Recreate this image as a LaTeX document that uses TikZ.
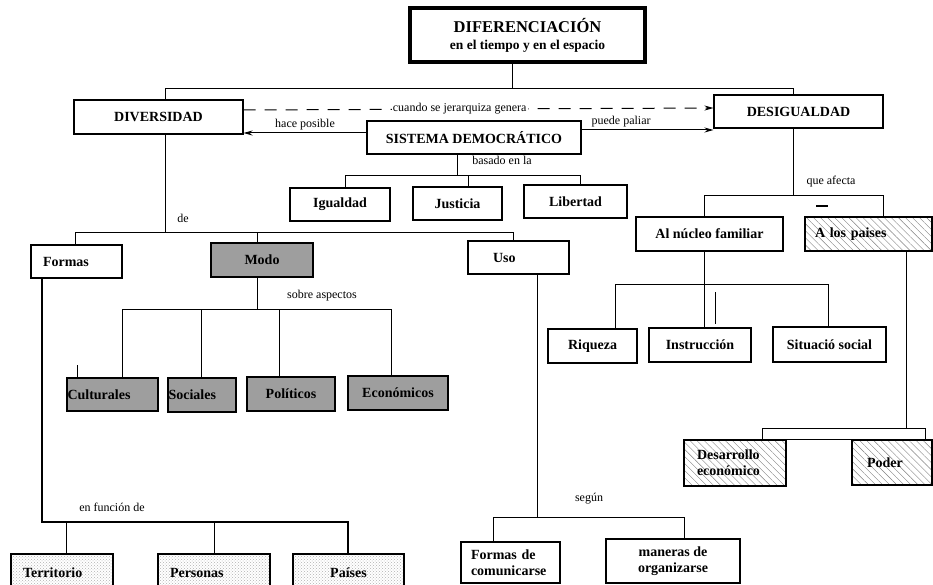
\documentclass[tikz,border=0pt]{standalone}
\usepackage{fontspec}
\setmainfont{Liberation Serif}
\usetikzlibrary{arrows.meta,patterns,patterns.meta}
\begin{document}
\begin{tikzpicture}[x=1pt,y=-1pt,
  box/.style={draw, line width=1.1pt, inner sep=2pt, font=\fontsize{14}{16}\selectfont\bfseries, align=center},
  darkbox/.style={box, fill=black!38, line width=1.6pt},
  dotbox/.style={box, pattern=crosshatch dots, pattern color=black!30},
  hatchbox/.style={box, pattern={Lines[angle=-45,distance=5pt,line width=0.4pt]}, pattern color=black!50},
  lbl/.style={font=\fontsize{12}{14}\selectfont, inner sep=1pt},
  conn/.style={line width=1pt},
  arr/.style={conn, -{Stealth[length=9pt,width=5pt]}}]
\fill[white] (0,0) rectangle (933,585);
\useasboundingbox (0,0) rectangle (933,585);

% --- top ---
\node[box, line width=3.5pt, minimum width=235pt, minimum height=54pt] (title) at (527.5,35)
  {{\fontsize{16.5}{19}\selectfont DIFERENCIACIÓN}\\[1pt]{\fontsize{13.5}{15}\selectfont en el tiempo y en el espacio}};
\node[box, minimum width=169pt, minimum height=34pt] (diversidad) at (158.5,117) {DIVERSIDAD};
\node[box, minimum width=169pt, minimum height=33pt] (desigualdad) at (798.5,111.5) {DESIGUALDAD};
\node[box, minimum width=214pt, minimum height=33pt] (sistema) at (474,137.5) {SISTEMA DEMOCRÁTICO};

\node[box, minimum width=100pt, minimum height=33pt] (igualdad) at (340,204.5) {Igualdad};
\node[box, minimum width=89pt, minimum height=33pt] (justicia) at (457.5,203.5) {Justicia};
\node[box, minimum width=103pt, minimum height=33pt] (libertad) at (575.5,201.5) {Libertad};

% --- diversidad branch ---
\node[box, inner xsep=12pt, text width=67pt, align=left, minimum height=33pt] (formas) at (76.5,261.5) {Formas};
\node[darkbox, minimum width=102pt, minimum height=34pt] (modo) at (262,260) {Modo};
\node[box, inner xsep=25pt, text width=51pt, align=left, minimum height=33pt] (uso) at (518.5,257.5) {Uso};

\node[darkbox, inner xsep=0.5pt, text width=90pt, align=left, minimum height=33pt] (culturales) at (112.5,394.5) {Culturales};
\node[darkbox, inner xsep=0.5pt, text width=67pt, align=left, minimum height=34pt] (sociales) at (202,395) {Sociales};
\node[darkbox, minimum width=88pt, minimum height=34pt] (politicos) at (291,394) {Políticos};
\node[darkbox, minimum width=100pt, minimum height=34pt] (economicos) at (398,393) {Económicos};

\node[dotbox, inner xsep=12pt, text width=78pt, align=left, minimum height=38pt] (territorio) at (62,573) {Territorio};
\node[dotbox, inner xsep=12pt, text width=88pt, align=left, minimum height=38pt] (personas) at (214,573) {Personas};
\node[dotbox, minimum width=111pt, minimum height=38pt] (paises) at (348.5,573) {Países};

\node[box, inner xsep=10pt, text width=79pt, align=left, minimum height=41pt] (comunicarse) at (510.5,562.5) {Formas de\\comunicarse};
\node[box, minimum width=134pt, minimum height=44pt] (organizarse) at (673,561) {maneras de\\organizarse};

% --- desigualdad branch ---
\node[box, minimum width=147pt, minimum height=34pt] (nucleo) at (709.5,234) {Al núcleo familiar};
\node[hatchbox, inner xsep=10pt, text width=107pt, align=left, minimum height=34pt] (lospaises) at (868.5,234) {A los paises};

\node[box, minimum width=89pt, minimum height=34pt] (riqueza) at (592.5,346) {Riqueza};
\node[box, minimum width=102pt, minimum height=34pt] (instruccion) at (700,345) {Instrucción};
\node[box, minimum width=113pt, minimum height=35pt] (situacio) at (829.5,344.5) {Situació social};

\node[hatchbox, inner xsep=13pt, text width=76pt, align=left, minimum height=46pt] (desarrollo) at (735,463) {Desarrollo\\económico};
\node[hatchbox, inner xsep=15pt, text width=50pt, align=left, minimum height=45pt] (poder) at (892,462.5) {Poder};

% --- bus coordinates ---
\coordinate (busT) at (512,89);
\coordinate (busA) at (165,89);
\coordinate (busB) at (793,89);
\coordinate (hp) at (0,133);
\coordinate (pp) at (0,130);
\coordinate (sb) at (457,176);
\coordinate (s1) at (345,176);
\coordinate (s2) at (468,176);
\coordinate (s3) at (580,176);
\coordinate (d0) at (165,232);
\coordinate (d1) at (75,232);
\coordinate (d2) at (257,232);
\coordinate (d3) at (513,232);
\coordinate (m0) at (257,309);
\coordinate (m1) at (122,309);
\coordinate (m2) at (201,309);
\coordinate (m3) at (279,309);
\coordinate (m4) at (391,309);
\coordinate (ct) at (77,365);
\coordinate (f0) at (42,522);
\coordinate (f1) at (66,522);
\coordinate (f2) at (214,522);
\coordinate (f3) at (348,522);
\coordinate (u0) at (537,517);
\coordinate (u1) at (493,517);
\coordinate (u2) at (684,517);
\coordinate (g0) at (793,196);
\coordinate (g1) at (704,196);
\coordinate (g2) at (883,196);
\coordinate (n0) at (704,284);
\coordinate (n1) at (615,284);
\coordinate (n3) at (828,284);
\coordinate (nx) at (715,292);
\coordinate (p0) at (906,428);
\coordinate (p1) at (762,428);
\coordinate (p2) at (925,428);

% --- connectors ---
\draw[conn] (title.south -| busT) -- (busT);
\draw[conn] (diversidad.north -| busA) -- (busA) -- (busB) -- (desigualdad.north -| busB);

\draw[arr, dash pattern=on 12pt off 9pt] ([yshift=7pt]diversidad.east) -- ([yshift=3.5pt]desigualdad.west)
  node[lbl, pos=0.46, fill=white] (lcuando) {cuando se jerarquiza genera};
\draw[arr] (sistema.west |- hp) -- (diversidad.east |- hp) node[lbl, midway, above=1pt] (lhace) {hace posible};
\draw[arr] (sistema.east |- pp) -- (desigualdad.west |- pp) node[lbl, pos=0.3, above=1pt] (lpuede) {puede paliar};

\draw[conn] (sistema.south -| sb) -- (sb);
\draw[conn] (igualdad.north -| s1) -- (s1) -- (s3) -- (libertad.north -| s3);
\draw[conn] (s2) -- (justicia.north -| s2);

\draw[conn] (diversidad.south -| d0) -- (d0);
\draw[conn] (formas.north -| d1) -- (d1) -- (d3) -- (uso.north -| d3);
\draw[conn] (d2) -- (modo.north -| d2);

\draw[conn] (modo.south -| m0) -- (m0);
\draw[conn] (culturales.north -| m1) -- (m1) -- (m4) -- (economicos.north -| m4);
\draw[conn] (m2) -- (sociales.north -| m2);
\draw[conn] (m3) -- (politicos.north -| m3);
\draw[conn] (ct) -- (culturales.north -| ct);

\draw[conn, line width=1.4pt] (formas.south -| f0) -- (f0) -- (f3) -- (paises.north -| f3);
\draw[conn] (f1) -- (territorio.north -| f1);
\draw[conn] (f2) -- (personas.north -| f2);

\draw[conn] (uso.south -| u0) -- (u0);
\draw[conn] (comunicarse.north -| u1) -- (u1) -- (u2) -- (organizarse.north -| u2);

\draw[conn] (desigualdad.south -| g0) -- (g0);
\draw[conn] (nucleo.north -| g1) -- (g1) -- (g2) -- (lospaises.north -| g2);
\draw[line width=1.6pt] (816,206) -- (828,206);

\draw[conn] (nucleo.south -| n0) -- (n0);
\draw[conn] (riqueza.north -| n1) -- (n1) -- (n3) -- (situacio.north -| n3);
\draw[conn] (n0) -- (instruccion.north -| n0);
\draw[conn] (nx) -- ([yshift=3pt]instruccion.north -| nx);

\draw[conn] (lospaises.south -| p0) -- (p0);
\draw[conn] (desarrollo.north -| p1) -- (p1) -- (p2) -- (poder.north -| p2);
\draw[conn] (desarrollo.north -| p1) -- (poder.north -| p2);

% --- labels ---
\node[lbl] (lbasado) at (502,160) {basado en la};
\node[lbl] (lde) at (183,218) {de};
\node[lbl] (lsobre) at (322,296) {sobre aspectos};
\node[lbl] (lfuncion) at (112,507) {en función de};
\node[lbl] (lsegun) at (589,499) {según};
\node[lbl] (lafecta) at (831,182) {que afecta};
\end{tikzpicture}
\end{document}
